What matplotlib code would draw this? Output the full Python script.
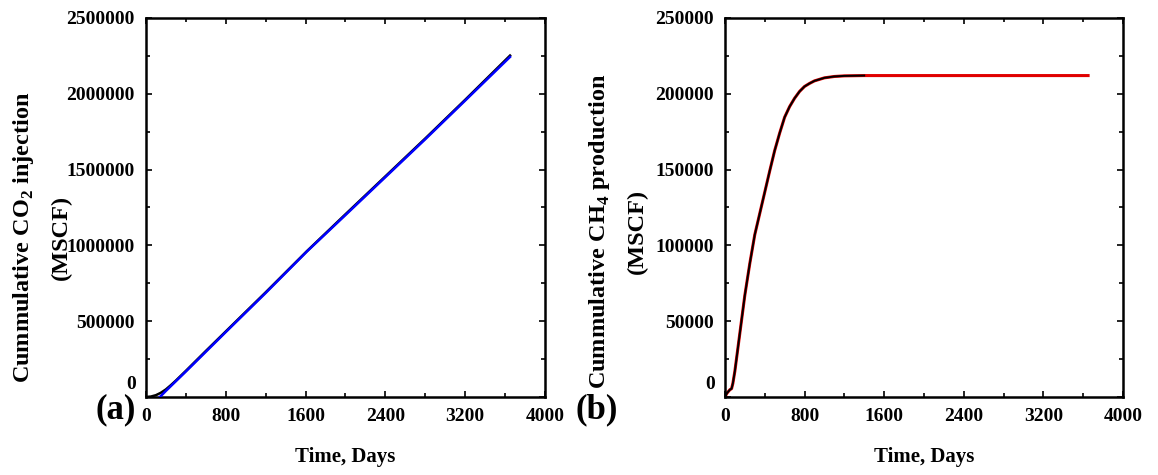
import matplotlib
matplotlib.use("Agg")
import matplotlib.pyplot as plt
from matplotlib.ticker import MultipleLocator, FuncFormatter

plt.rcParams['font.family'] = ['Liberation Serif', 'DejaVu Serif']
plt.rcParams['font.weight'] = 'bold'
plt.rcParams['mathtext.fontset'] = 'custom'
plt.rcParams['mathtext.rm'] = 'Liberation Serif:bold'
plt.rcParams['mathtext.bf'] = 'Liberation Serif:bold'

# ---- Panel (a): cumulative CO2 injection (MSCF) ----
co2_black_days = [0, 50, 100, 150, 200, 250, 300, 400, 600, 800, 1200, 1614, 2000, 2400, 2800, 3200, 3650]
co2_black_vals = [0, 3000, 12000, 28000, 50000, 78000, 108000, 172000, 303000, 432000, 690000, 962000,
                  1205000, 1455000, 1705000, 1960000, 2252000]
co2_blue_days = [140, 200, 300, 400, 600, 800, 1200, 1614, 2000, 2400, 2800, 3200, 3650]
co2_blue_vals = [0, 40000, 104000, 168000, 298000, 428000, 686000, 960000, 1200000, 1450000, 1700000,
                 1955000, 2243000]

# ---- Panel (b): cumulative CH4 production (MSCF) ----
ch4_red_days = [0, 20, 50, 67, 80, 100, 150, 200, 250, 300, 350, 400, 450, 500, 550, 600, 650, 700,
                750, 800, 850, 900, 1000, 1100, 1200, 1400, 1600, 2000, 2400, 2800, 3200, 3650]
ch4_red_vals = [0, 2500, 4800, 5500, 9000, 17000, 42000, 67000, 88000, 107000, 121000, 135000, 149000,
                162500, 174000, 184500, 191500, 197000, 201500, 204800, 206800, 208500, 210500, 211400,
                211800, 212000, 212000, 212000, 212000, 212000, 212000, 212000]
ch4_black_days = ch4_red_days[:26]
ch4_black_vals = ch4_red_vals[:26]

x_major = 800
x_minor = 400

fig = plt.figure(figsize=(11.58, 4.75), dpi=100)
ax1 = fig.add_axes([0.126, 0.1642, 0.3446, 0.798])
ax2 = fig.add_axes([0.626, 0.1642, 0.3437, 0.798])

ax1.plot(co2_black_days, co2_black_vals, color='black', lw=1.8, zorder=2)
ax1.plot(co2_blue_days, co2_blue_vals, color='#0000ff', lw=1.8, zorder=3)

ax2.plot(ch4_red_days, ch4_red_vals, color='#e00000', lw=2.2, zorder=2)
ax2.plot(ch4_black_days, ch4_black_vals, color='black', lw=1.4, zorder=3)

ax1.set_xlim(0, 4000)
ax1.set_ylim(0, 2500000)
ax2.set_xlim(0, 4000)
ax2.set_ylim(0, 250000)
ax1.yaxis.set_major_locator(MultipleLocator(500000))
ax1.yaxis.set_minor_locator(MultipleLocator(250000))
ax2.yaxis.set_major_locator(MultipleLocator(50000))
ax2.yaxis.set_minor_locator(MultipleLocator(25000))

# the y "0" label is drawn slightly raised (as in the original), so skip it in the formatter
yfmt = FuncFormatter(lambda v, p: '' if v == 0 else f'{v:.0f}')

for ax in (ax1, ax2):
    ax.xaxis.set_major_locator(MultipleLocator(x_major))
    ax.xaxis.set_minor_locator(MultipleLocator(x_minor))
    ax.yaxis.set_major_formatter(yfmt)
    ax.tick_params(which='both', direction='in', top=True, right=True, width=1.2,
                   labelsize=14, pad=8)
    ax.tick_params(which='major', length=4)
    ax.tick_params(which='minor', length=3)
    for s in ax.spines.values():
        s.set_linewidth(1.8)
    ax.set_xlabel('Time, Days', fontsize=15, fontweight='bold', labelpad=16)
    ax.annotate('0', xy=(0, 0), xycoords='axes fraction', xytext=(-7, 9),
                textcoords='offset points', ha='right', va='center', fontsize=14,
                fontweight='bold')

ax1.set_ylabel('Cummulative CO$_2$ injection\n(MSCF)', fontsize=17.5, fontweight='bold',
               linespacing=1.95)
ax2.set_ylabel('Cummulative CH$_4$ production\n(MSCF)', fontsize=17.5, fontweight='bold',
               linespacing=1.95)
ax1.yaxis.set_label_coords(-0.185, 0.42)
ax2.yaxis.set_label_coords(-0.193, 0.437)

fig.text(0.100, 0.137, '(a)', fontsize=25, fontweight='bold', ha='center', va='center')
fig.text(0.515, 0.137, '(b)', fontsize=25, fontweight='bold', ha='center', va='center')

fig.savefig('out.png', dpi=100)
